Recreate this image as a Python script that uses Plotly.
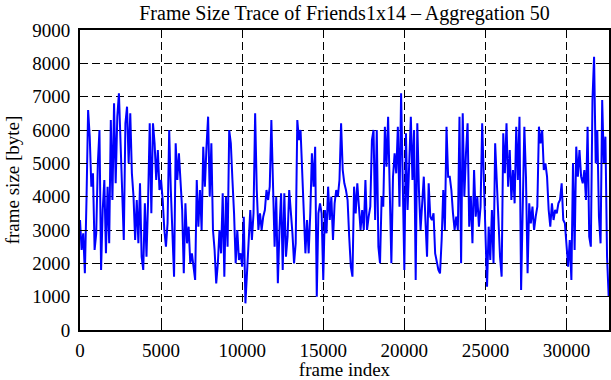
import numpy as np
import plotly.graph_objects as go

seg1 = [3300, 2400, 2900, 1700, 3900, 6600, 5800, 4300, 4700, 2400,
        2900, 5000, 6000, 1800, 3600, 4500, 2300, 4300, 2600, 6300,
        3900, 6800, 4400, 6400, 7100, 5500, 4600, 2700, 6200, 6700,
        5000, 6500, 4700, 4000, 2700, 3900, 2600, 4400, 2200, 1800,
        3800, 2200, 3900, 6200, 3500, 6200, 5600, 4500, 5400, 4200,
        4500, 3900, 3000, 2500, 3200, 6000]
seg2 = [4200, 2600, 1600, 5600, 4500, 5300, 4600, 3600, 1700, 3800,
        2600, 3100, 2000, 2300, 1900, 1500, 4500, 3100, 4200, 3000,
        5500, 4300, 5500, 6400, 4000, 5600, 3000, 2400, 1400, 2000,
        3000, 2300, 4100, 1600, 4000, 2500, 6000, 5600, 4500, 3500,
        2000, 3000, 2100, 2300, 1900, 3400, 800, 1800, 3000, 3600]
seg3 = [2700, 3500, 6500, 4200, 3000, 3500, 3000, 3400, 3600, 4200,
        3900, 4300, 6300, 4500, 2500, 4000, 1400, 3000, 4100, 1800,
        4100, 2200, 2800, 4200, 3600, 2900, 2000, 2600, 6300, 5700,
        6000, 4800, 3900, 2300, 3300, 2300, 3500, 5300, 4300, 5500,
        1000, 3500, 3800, 3500, 1500, 3600, 2900, 4300, 3300, 4000,
        2700, 3800, 4200, 4000, 4500, 6200, 4800]
seg4 = [4400, 4200, 3900, 2800, 1900, 1600, 4300, 3500, 4400, 3700,
        3000, 3600, 3000, 4500, 3000, 3400, 3700, 5700, 6000, 3300,
        6000, 2500, 2000, 4000, 3700, 6100, 4900, 6400, 4100, 2000,
        4600, 5300, 4700, 6100, 3700, 7100, 4500, 1800, 5900, 3600,
        5000, 6400, 4500, 6000, 1500, 6200, 4200, 3000, 3800, 4600,
        3300, 2200, 4400, 3400]
seg5 = [3300, 3500, 2300, 2000, 1800, 1700, 2700, 4200, 3000, 6100,
        4600, 4600, 4200, 3500, 3000, 3400, 3000, 6400, 2000, 6500,
        4000, 5300, 6200, 3100, 4000, 2600, 4800, 3400, 4000, 3100,
        3700, 6200, 4600, 2900, 1300, 3100, 2100, 3600, 2000, 5600,
        4300, 3400, 2200, 1600, 5900, 4700, 6200, 4300, 5400, 3900,
        4800, 3800, 6100, 4500]
seg6 = [6400, 1200, 4000, 6100, 4600, 1700, 3800, 3200, 3700, 3000,
        3400, 3700, 6100, 5600, 6000, 4800, 5000, 4600, 3600, 3100,
        3800, 3300, 3600, 3500, 3800, 3900, 4400, 3300, 3200, 2600,
        1900, 2700, 1500, 5000, 2400, 5500, 4600, 5400, 4600, 4400,
        4800, 3900, 6100, 2800, 2500, 6900, 8200, 5000, 6000, 3400,
        2600, 6900, 5000, 5800, 2200, 1000]

frame_size = seg1 + seg2 + seg3 + seg4 + seg5 + seg6
frame_step = 100
frame_index = [i * frame_step for i in range(len(frame_size))]

x_ticks = [0, 5000, 10000, 15000, 20000, 25000, 30000]
y_ticks = [0, 1000, 2000, 3000, 4000, 5000, 6000, 7000, 8000, 9000]

FONT = "Liberation Serif"

fig = go.Figure()
fig.add_trace(go.Scatter(x=frame_index, y=frame_size, mode="lines",
                         line=dict(color="#0000ff", width=2),
                         hoverinfo="skip"))

axis_common = dict(
    showline=True, linecolor="black", linewidth=2, mirror="ticks",
    ticks="inside", ticklen=7, tickwidth=1, tickcolor="black",
    showgrid=True, gridcolor="black", gridwidth=1, griddash="8px,4px",
    zeroline=False, automargin=False,
    tickfont=dict(family=FONT, size=19, color="black"),
)

fig.update_xaxes(range=[0, 32620], tickvals=x_ticks,
                 ticktext=[str(v) for v in x_ticks],
                 ticklabelstandoff=2,
                 title=dict(text="frame index", standoff=2,
                            font=dict(family=FONT, size=19, color="black")),
                 **axis_common)
fig.update_yaxes(range=[0, 9000], tickvals=y_ticks,
                 ticktext=[str(v) for v in y_ticks],
                 ticklabelstandoff=4,
                 title=dict(text="frame size [byte]", standoff=8,
                            font=dict(family=FONT, size=19, color="black")),
                 **axis_common)

fig.update_layout(
    width=611, height=380,
    margin=dict(l=80, r=2, t=30, b=50, autoexpand=False),
    paper_bgcolor="white", plot_bgcolor="white",
    showlegend=False,
    font=dict(family=FONT, size=19, color="black"),
    title=dict(text="Frame Size Trace of Friends1x14 – Aggregation 50",
               x=0.5, xref="paper", xanchor="center",
               y=1 - 13 / 380, yref="container", yanchor="middle",
               font=dict(family=FONT, size=20, color="black"),
               automargin=False),
)

fig.write_html("out.html",
               config={"displayModeBar": False, "staticPlot": True},
               post_script="document.body.style.margin='0px';")
